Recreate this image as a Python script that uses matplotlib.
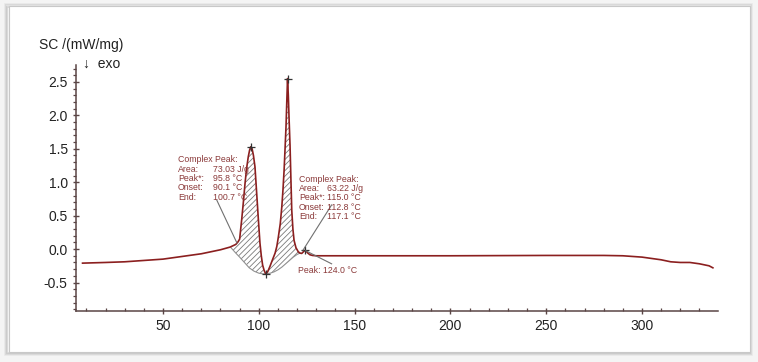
import matplotlib.pyplot as plt
import numpy as np
from matplotlib.patches import Rectangle
from matplotlib.ticker import MultipleLocator

plt.rcParams["font.family"] = ["Liberation Sans", "DejaVu Sans"]
plt.rcParams["hatch.linewidth"] = 0.6
plt.rcParams["axes.unicode_minus"] = False

# DSC curve (temperature in degC, DSC in mW/mg)
temp = [8, 20, 30, 40, 50, 60, 70, 75, 80, 85, 88, 89.2, 90, 91.1, 92, 92.8,
        93.6, 94.5, 95.2, 95.8, 96.5, 97.2, 98, 98.9, 99.8, 100.6, 101.3, 102,
        102.8, 103.6, 104.6, 105.8, 107, 108.5, 109.4, 110.2, 111.2, 112, 112.6,
        113.2, 113.7, 114.2, 114.6, 115, 115.4, 115.8, 116.3, 116.8, 117.2, 117.8,
        118.4, 119.4, 120.6, 121.5, 122.4, 123.3, 124, 124.8, 125.6, 126.7, 128,
        130, 140, 160, 200, 250, 280, 290, 300, 305, 310, 315, 320, 325, 330, 335, 337]
dsc = [-0.21, -0.2, -0.19, -0.17, -0.15, -0.11, -0.07, -0.04, -0.01, 0.03, 0.07, 0.11,
       0.15, 0.45, 0.72, 0.98, 1.2, 1.38, 1.48, 1.53, 1.5, 1.4, 1.23, 0.83, 0.43,
       0.09, -0.1, -0.24, -0.32, -0.37, -0.34, -0.26, -0.17, -0.06, 0.04, 0.18, 0.38,
       0.63, 0.88, 1.18, 1.5, 1.83, 2.2, 2.55, 2.3, 1.95, 1.55, 1.0, 0.58, 0.3,
       0.13, 0.02, -0.04, -0.06, -0.065, -0.04, -0.02, -0.035, -0.06, -0.085, -0.095,
       -0.1, -0.1, -0.1, -0.1, -0.095, -0.095, -0.1, -0.12, -0.14, -0.16, -0.19,
       -0.2, -0.2, -0.22, -0.25, -0.28]

# integration baselines under the two complex peaks
base1_t = [85.5, 88, 90, 92.5, 95, 97.5, 100, 102, 103.6]
base1_v = [0.02, -0.06, -0.12, -0.2, -0.28, -0.33, -0.36, -0.37, -0.37]
base2_t = [103.6, 106, 108, 110, 112, 114, 116, 118, 120, 121.5]
base2_v = [-0.37, -0.36, -0.34, -0.31, -0.27, -0.22, -0.17, -0.12, -0.08, -0.06]

peak_t = [95.8, 115.0, 124.0, 103.6]
peak_v = [1.53, 2.55, -0.02, -0.37]

info_keys = ["Complex Peak:", "Area:", "Peak*:", "Onset:", "End:"]
left_values = ["", "73.03 J/g", "95.8 °C", "90.1 °C", "100.7 °C"]
right_values = ["", "63.22 J/g", "115.0 °C", "112.8 °C", "117.1 °C"]

curve_col = "#8b1f1f"
text_col = "#8b3a3a"
hatch_col = "#7a7a7a"

fig = plt.figure(figsize=(7.58, 3.62), dpi=100)
fig.patch.set_facecolor("#f4f4f4")

# white card with soft grey edge
for i, a in enumerate([0.10, 0.18, 0.28]):
    fig.patches.append(Rectangle((0.006 + i * 0.0015, 0.018 + i * 0.003), 0.986 - i * 0.003,
                                 0.97 - i * 0.006, transform=fig.transFigure, zorder=-5,
                                 facecolor="none", edgecolor="#808080", lw=1.2, alpha=a))
fig.patches.append(Rectangle((0.012, 0.028), 0.977, 0.956, transform=fig.transFigure,
                             zorder=-4, facecolor="white", edgecolor="#c8c8c8", lw=0.8))

ax = fig.add_axes([0.1003, 0.141, 0.847, 0.679])
ax.set_facecolor("none")
ax.set_zorder(3)

t = np.array(temp)
v = np.array(dsc)

# hatched peak areas
m1 = (t >= base1_t[0]) & (t <= base1_t[-1])
ax.fill(np.concatenate([t[m1], base1_t[::-1]]), np.concatenate([v[m1], base1_v[::-1]]),
        facecolor="none", edgecolor=hatch_col, hatch="//////", lw=0)
m2 = (t >= base2_t[0]) & (t <= base2_t[-1])
ax.fill(np.concatenate([t[m2], base2_t[::-1]]), np.concatenate([v[m2], base2_v[::-1]]),
        facecolor="none", edgecolor=hatch_col, hatch="//////", lw=0)
ax.plot(base1_t, base1_v, color="#909090", lw=0.8)
ax.plot(base2_t, base2_v, color="#909090", lw=0.8)

ax.plot(t, v, color=curve_col, lw=1.2)
ax.plot(peak_t, peak_v, "+", color="#333333", ms=6, mew=0.9)

# annotation blocks, one text per line
step = 0.139
for k, (key, lv, rv) in enumerate(zip(info_keys, left_values, right_values)):
    ax.text(57.8, 1.40 - k * step, key, fontsize=6.3, color=text_col, va="top")
    ax.text(121.0, 1.11 - k * step, key, fontsize=6.3, color=text_col, va="top")
    if lv:
        ax.text(76.0, 1.40 - k * step, lv, fontsize=6.3, color=text_col, va="top")
        ax.text(135.5, 1.11 - k * step, rv, fontsize=6.3, color=text_col, va="top")
ax.text(120.5, -0.32, "Peak: 124.0 °C", fontsize=6.3, color=text_col, va="center")
ax.plot([78.1, 88.6], [0.73, 0.09], color="#707070", lw=0.8)
ax.plot([138.0, 123.1], [0.66, -0.015], color="#707070", lw=0.8)
ax.plot([124.5, 138.0], [-0.025, -0.22], color="#707070", lw=0.8)

ax.set_xlim(4.6, 339.7)
ax.set_ylim(-0.925, 2.75)
ax.xaxis.set_major_locator(MultipleLocator(50))
ax.xaxis.set_minor_locator(MultipleLocator(10))
ax.yaxis.set_major_locator(MultipleLocator(0.5))
ax.yaxis.set_minor_locator(MultipleLocator(0.1))
ax.spines["top"].set_visible(False)
ax.spines["right"].set_visible(False)
for s in ["left", "bottom"]:
    ax.spines[s].set_color("#5a4545")
    ax.spines[s].set_linewidth(1.1)
ax.tick_params(which="major", direction="inout", length=5, width=1, colors="#5a4545",
               labelsize=10, labelcolor="#222222")
ax.tick_params(which="minor", direction="in", length=2.5, width=0.9, colors="#5a4545")
ax.tick_params(axis="y", which="minor", direction="out")

fig.text(39 / 758, 1 - 45 / 362, "SC /(mW/mg)", fontsize=10, color="#222222", va="center")
fig.text(83 / 758, 1 - 64 / 362, "↓  exo", fontsize=10, color="#222222", va="center")

fig.savefig("out.png", dpi=100)
